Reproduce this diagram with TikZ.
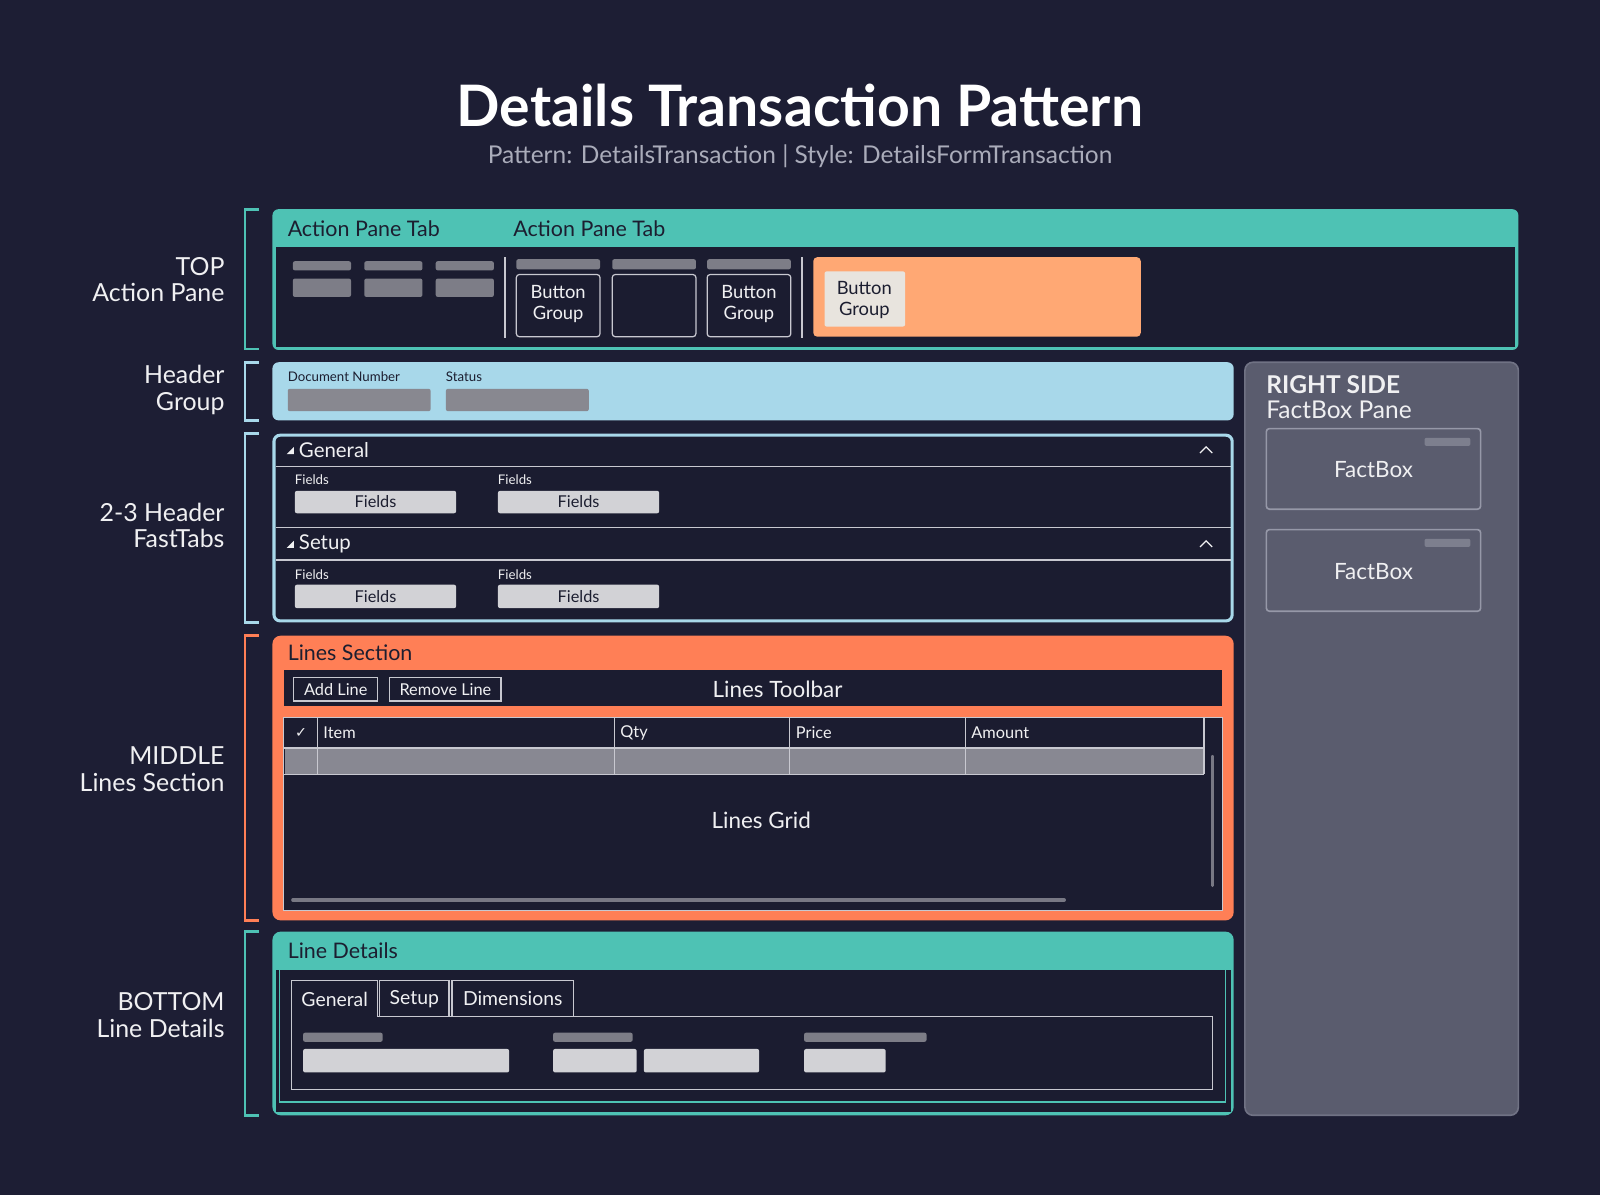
\documentclass[tikz,border=0pt]{standalone}
\usepackage{fontspec}
\setmainfont{Lato}
\newfontfamily\symfont{DejaVu Sans}
\definecolor{bgc}{RGB}{29,30,52}
\definecolor{paneldark}{RGB}{27,28,48}
\definecolor{tealc}{RGB}{78,194,180}
\definecolor{lblue}{RGB}{168,216,234}
\definecolor{orangec}{RGB}{255,127,86}
\definecolor{peach}{RGB}{255,168,116}
\definecolor{cream}{RGB}{232,228,222}
\definecolor{rpfill}{RGB}{90,92,110}
\definecolor{rpborder}{RGB}{112,114,132}
\definecolor{fbborder}{RGB}{150,152,168}
\definecolor{fbbar}{RGB}{125,127,142}
\definecolor{bargray}{RGB}{125,125,135}
\definecolor{midgray}{RGB}{136,136,144}
\definecolor{lightfield}{RGB}{210,210,214}
\definecolor{rowgray}{RGB}{136,136,146}
\definecolor{scrollgray}{RGB}{120,120,132}
\definecolor{linec}{RGB}{200,200,208}
\definecolor{subgray}{RGB}{170,172,186}
\definecolor{darktext}{RGB}{28,30,48}
\definecolor{whitetext}{RGB}{240,240,242}
\begin{document}
\begin{tikzpicture}[x=0.5pt,y=-0.5pt,
  every node/.style={inner sep=0pt, outer sep=0pt},
  brk/.style={line width=1.3pt},
  lbl/.style={font=\fontsize{12.2}{13}\selectfont, text=whitetext, anchor=east, align=right},
  hdr/.style={font=\fontsize{10.5}{12}\selectfont, text=darktext, anchor=west},
  tabhdr/.style={font=\fontsize{10}{12}\selectfont, text=whitetext, anchor=west},
  small/.style={font=\fontsize{6.5}{8}\selectfont, anchor=west},
  fieldtxt/.style={font=\fontsize{8}{9}\selectfont, text=darktext},
  btntxt/.style={font=\fontsize{9}{10}\selectfont, align=center},
  coltxt/.style={font=\fontsize{8}{9}\selectfont, text=whitetext, anchor=west},
  bigtxt/.style={font=\fontsize{11}{12}\selectfont, text=whitetext},
  thin/.style={draw=linec, line width=0.6pt},
  graybar/.style={fill=bargray, rounded corners=1pt},
  fieldbox/.style={fill=lightfield, rounded corners=1pt}
]
\useasboundingbox (0,0) rectangle (1568,1171);
\fill[bgc] (0,0) rectangle (1568,1171);

% Title
\node[font=\fontsize{28}{32}\selectfont\bfseries, text=white] (title) at (784,103) {Details Transaction Pattern};
\node[font=\fontsize{12}{14}\selectfont, text=subgray] (subtitle) at (784,153) {Pattern: DetailsTransaction | Style: DetailsFormTransaction};

% Left brackets and labels
\draw[brk, tealc] (254,205) -- (240,205) -- (240,342) -- (254,342);
\draw[brk, lblue] (254,355) -- (240,355) -- (240,412) -- (254,412);
\draw[brk, lblue] (254,425) -- (240,425) -- (240,610) -- (254,610);
\draw[brk, orangec] (254,623) -- (240,623) -- (240,902) -- (254,902);
\draw[brk, tealc] (254,913) -- (240,913) -- (240,1093) -- (254,1093);
\node[lbl] (ltop) at (220,274) {TOP\\Action Pane};
\node[lbl] (lhdr) at (220,382) {Header\\Group};
\node[lbl] (lfast) at (220,515) {2-3 Header\\FastTabs};
\node[lbl] (lmid) at (220,754) {MIDDLE\\Lines Section};
\node[lbl] (lbot) at (220,995) {BOTTOM\\Line Details};

% Action pane
\fill[tealc, rounded corners=3pt] (267,205) rectangle (1488,343);
\fill[paneldark] (270,242) rectangle (1485,340);
\node[hdr] (apt1) at (282,224) {Action Pane Tab};
\node[hdr] (apt2) at (503,224) {Action Pane Tab};
\foreach \x in {287,357,427}{
  \fill[graybar] (\x,256) rectangle (\x+57,265);
  \fill[graybar] (\x,273) rectangle (\x+57,291);
}
\draw[linec, line width=0.7pt] (495,252) -- (495,331);
\draw[linec, line width=0.7pt] (786,252) -- (786,331);
\foreach \x in {506,600,693}{
  \fill[graybar] (\x,254) rectangle (\x+82,264);
}
\draw[thin, fill=paneldark, rounded corners=1.5pt] (506,269) rectangle (588,330);
\draw[thin, fill=paneldark, rounded corners=1.5pt] (600,269) rectangle (682,330);
\draw[thin, fill=paneldark, rounded corners=1.5pt] (693,269) rectangle (775,330);
\node[btntxt, text=whitetext] (bg1) at (547,298) {Button\\Group};
\node[btntxt, text=whitetext] (bg2) at (734,298) {Button\\Group};
\fill[peach, rounded corners=2pt] (797,252) rectangle (1118,330);
\fill[cream, rounded corners=1pt] (808,266) rectangle (887,320);
\node[btntxt, text=darktext] (bg3) at (847,294) {Button\\Group};

% Header group
\fill[lblue, rounded corners=3pt] (267,355) rectangle (1209,412);
\node[small, text=darktext] (docnum) at (282,369) {Document Number};
\node[small, text=darktext] (status) at (437,369) {Status};
\fill[midgray, rounded corners=1pt] (282,381) rectangle (422,403);
\fill[midgray, rounded corners=1pt] (437,381) rectangle (577,403);

% FastTabs
\draw[lblue, line width=1.5pt, fill=paneldark, rounded corners=3pt] (268.5,426.5) rectangle (1207.5,608.5);
\draw[linec, line width=0.7pt] (270,457) -- (1206,457);
\draw[linec, line width=0.7pt] (270,517) -- (1206,517);
\draw[linec, line width=0.7pt] (270,549) -- (1206,549);
\fill[whitetext] (281,445) -- (288,445) -- (288,438) -- cycle;
\node[tabhdr] (ftgen) at (293,441) {General};
\draw[whitetext, line width=0.6pt] (1176,444) -- (1182,438) -- (1188,444);
\node[small, text=whitetext] (fl1) at (289,470) {Fields};
\node[small, text=whitetext] (fl2) at (488,470) {Fields};
\fill[fieldbox] (289,481) rectangle (447,503);
\fill[fieldbox] (488,481) rectangle (646,503);
\node[fieldtxt] (fb1) at (368,492) {Fields};
\node[fieldtxt] (fb2) at (567,492) {Fields};
\fill[whitetext] (281,537) -- (288,537) -- (288,530) -- cycle;
\node[tabhdr] (ftset) at (293,533) {Setup};
\draw[whitetext, line width=0.6pt] (1176,536) -- (1182,530) -- (1188,536);
\node[small, text=whitetext] (fl3) at (289,563) {Fields};
\node[small, text=whitetext] (fl4) at (488,563) {Fields};
\fill[fieldbox] (289,573) rectangle (447,596);
\fill[fieldbox] (488,573) rectangle (646,596);
\node[fieldtxt] (fb3) at (368,585) {Fields};
\node[fieldtxt] (fb4) at (567,585) {Fields};

% Right side
\draw[rpborder, line width=0.8pt, fill=rpfill, rounded corners=4pt] (1220,355) rectangle (1488,1093);
\node[font=\fontsize{12}{13}\selectfont\bfseries, text=whitetext, anchor=west] (rs) at (1241,377) {RIGHT SIDE};
\node[font=\fontsize{12}{13}\selectfont, text=whitetext, anchor=west] (rsp) at (1241,402) {FactBox Pane};
\draw[fbborder, line width=0.8pt, rounded corners=1.5pt] (1241,420) rectangle (1451,499);
\fill[fbbar, rounded corners=1pt] (1396,429) rectangle (1441,437);
\node[bigtxt] (fact1) at (1346,460) {FactBox};
\draw[fbborder, line width=0.8pt, rounded corners=1.5pt] (1241,519) rectangle (1451,599);
\fill[fbbar, rounded corners=1pt] (1396,528) rectangle (1441,536);
\node[bigtxt] (fact2) at (1346,560) {FactBox};

% Lines section
\fill[orangec, rounded corners=4pt] (267,623) rectangle (1209,902);
\node[hdr] (lsec) at (282,640) {Lines Section};
\fill[paneldark] (278,657) rectangle (1198,692);
\draw[thin] (288,664) rectangle (370,687);
\draw[thin] (382,664) rectangle (491,687);
\node[fieldtxt, text=whitetext] (addl) at (329,676) {Add Line};
\node[fieldtxt, text=whitetext] (reml) at (436.5,676) {Remove Line};
\node[bigtxt] (ltool) at (762,676) {Lines Toolbar};
\draw[linec, line width=0.5pt, fill=paneldark] (278,703) rectangle (1198,892);
\fill[rowgray] (279,733) rectangle (1180,759);
\draw[linec, line width=0.6pt] (278,733) -- (1180,733);
\draw[linec, line width=0.6pt] (278,759) -- (1180,759);
\foreach \x in {311,602,774,946,1180}{
  \draw[linec, line width=0.6pt] (\x,703) -- (\x,759);
}
\node[font=\symfont\fontsize{7}{8}\selectfont, text=whitetext] (chk) at (295,718) {✓};
\node[coltxt] (citem) at (317,718) {Item};
\node[coltxt] (cqty) at (608,718) {Qty};
\node[coltxt] (cprice) at (780,718) {Price};
\node[coltxt] (camt) at (952,718) {Amount};
\draw[scrollgray, line width=1.3pt, line cap=round] (1188,741) -- (1188,868);
\draw[scrollgray, line width=1.6pt, line cap=round] (287,882) -- (1043,882);
\node[bigtxt] (lgrid) at (746,804) {Lines Grid};

% Line details
\fill[tealc, rounded corners=4pt] (267,913) rectangle (1209,1093);
\fill[paneldark] (270,951) rectangle (1206,1090);
\draw[tealc, line width=0.8pt] (274,951) -- (274,1080) -- (1201,1080) -- (1201,951);
\node[hdr] (ldet) at (282,932) {Line Details};
\draw[thin] (286,996) -- (286,961) -- (370,961) -- (370,996) -- (1188,996) -- (1188,1068) -- (286,1068) -- cycle;
\draw[thin] (372,996) -- (372,961) -- (440,961) -- (440,996);
\draw[thin] (443,996) -- (443,961) -- (562,961) -- (562,996);
\node[font=\fontsize{9.5}{11}\selectfont, text=whitetext] (tgen) at (328,979) {General};
\node[font=\fontsize{9.5}{11}\selectfont, text=whitetext] (tset) at (406,979) {Setup};
\node[font=\fontsize{9.5}{11}\selectfont, text=whitetext] (tdim) at (502.5,979) {Dimensions};
\fill[graybar] (297,1012) rectangle (375,1021);
\fill[graybar] (542,1012) rectangle (620,1021);
\fill[graybar] (788,1012) rectangle (908,1021);
\fill[fieldbox] (297,1028) rectangle (499,1051);
\fill[fieldbox] (542,1028) rectangle (624,1051);
\fill[fieldbox] (631,1028) rectangle (744,1051);
\fill[fieldbox] (788,1028) rectangle (868,1051);
\end{tikzpicture}
\end{document}
